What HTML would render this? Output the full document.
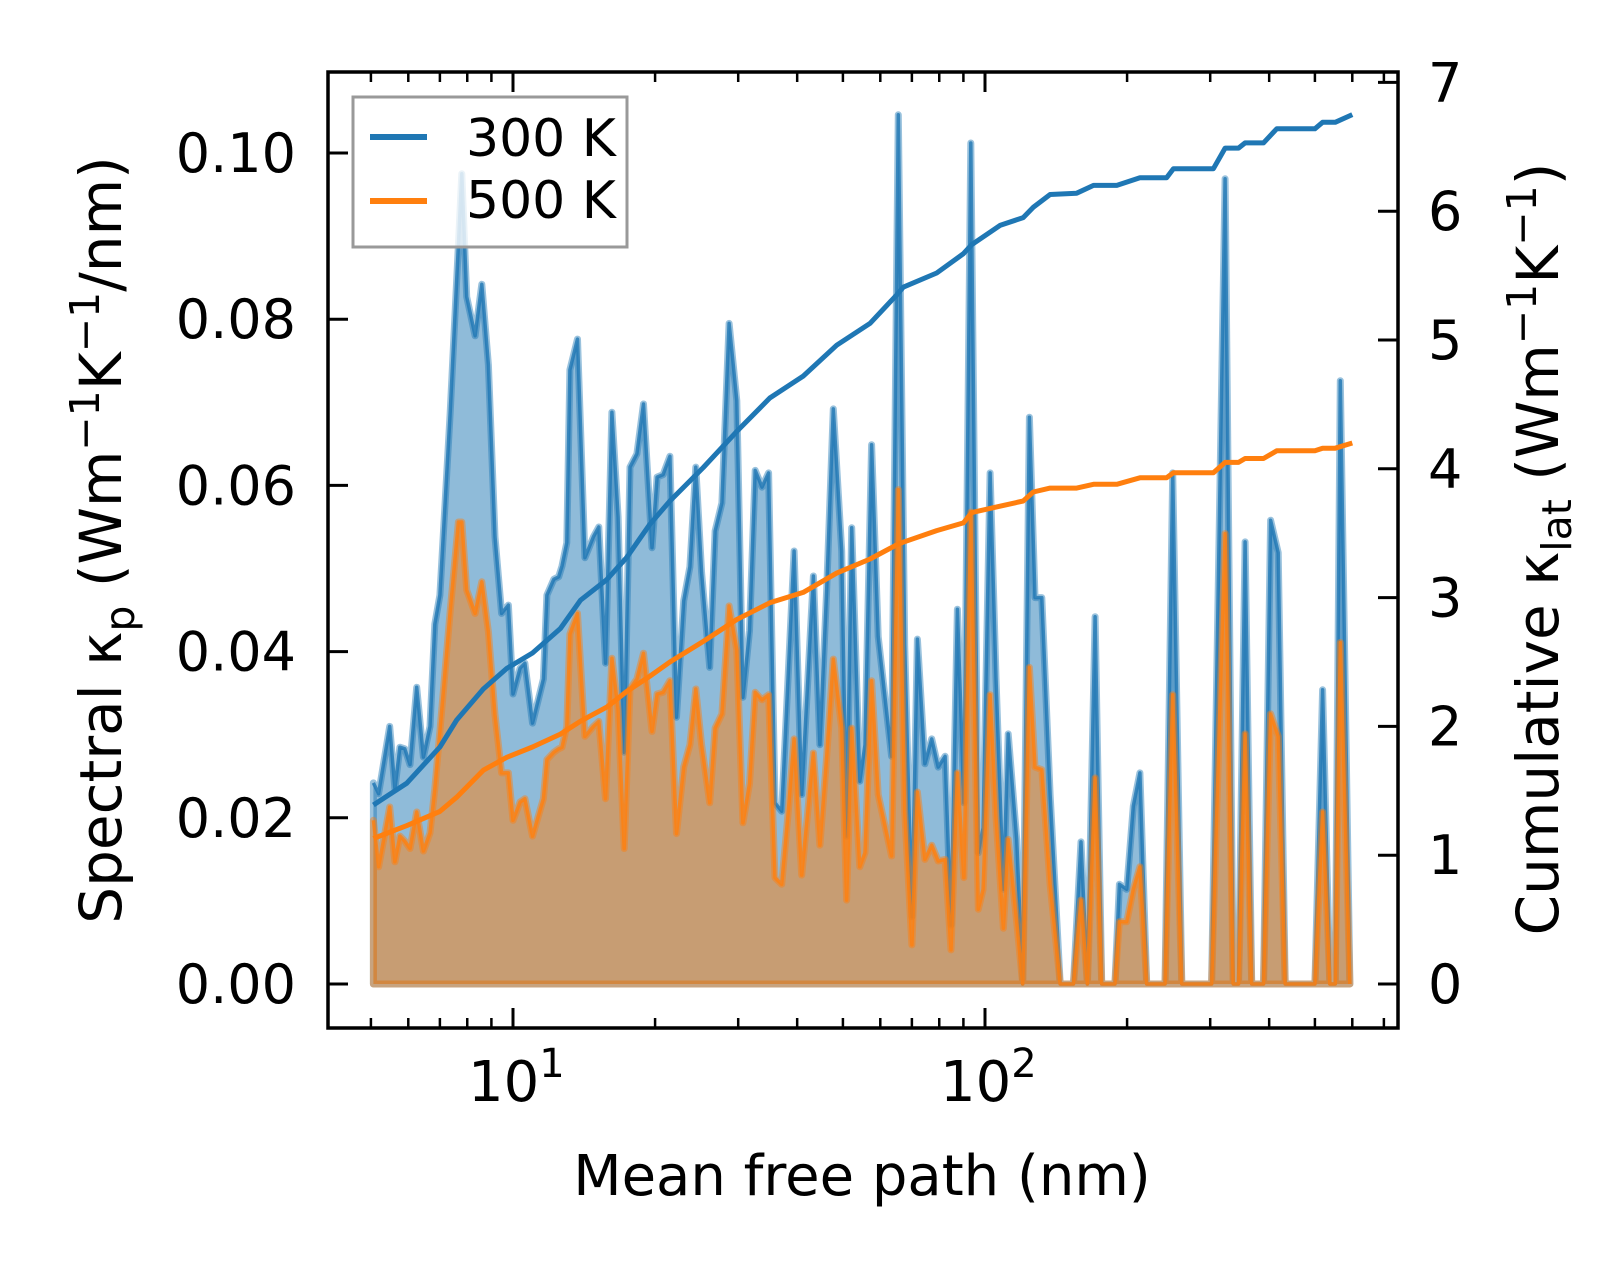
<!DOCTYPE html>
<html><head><meta charset="utf-8"><style>
html,body{margin:0;padding:0;background:#fff;}
svg{display:block;font-family:"DejaVu Sans","Liberation Sans",sans-serif;}
</style></head><body>
<svg id="chart" width="1623" height="1266" viewBox="0 0 1623 1266" xmlns="http://www.w3.org/2000/svg">
<rect width="1623" height="1266" fill="#fff"/>
<g id="marks"></g>
<g id="axes"></g>
<text x="862" y="1195" font-size="56" text-anchor="middle">Mean free path (nm)</text>
<text transform="translate(121,540) rotate(-90)" font-size="58" text-anchor="middle">Spectral κ<tspan font-size="41" dy="13">p</tspan><tspan dy="-13"> (Wm</tspan><tspan font-size="41" dy="-22">−1</tspan><tspan dy="22">K</tspan><tspan font-size="41" dy="-22">−1</tspan><tspan dy="22">/nm)</tspan></text>
<text transform="translate(1558,549) rotate(-90)" font-size="58" text-anchor="middle">Cumulative κ<tspan font-size="41" dy="13">lat</tspan><tspan dy="-13"> (Wm</tspan><tspan font-size="41" dy="-22">−1</tspan><tspan dy="22">K</tspan><tspan font-size="41" dy="-22">−1</tspan><tspan dy="22">)</tspan></text>
<g>
<rect x="353" y="97" width="274" height="150" fill="#fff" fill-opacity="0.8" stroke="#999" stroke-width="3"/>
<line x1="370" y1="137" x2="427" y2="137" stroke="#1f77b4" stroke-width="6"/>
<text x="466" y="156" font-size="52">300 K</text>
<line x1="370" y1="201" x2="427" y2="201" stroke="#ff7f0e" stroke-width="6"/>
<text x="466" y="218" font-size="52">500 K</text>
</g>
</svg>
<script>
const mfp = [5.06,5.19,5.48,5.62,5.76,5.90,6.05,6.25,6.46,6.67,6.83,7.00,7.36,7.66,7.79,7.98,8.31,8.59,8.87,9.16,9.46,9.78,10.0,10.35,10.6,11.0,11.6,11.8,12.2,12.5,12.7,13.0,13.2,13.7,14.2,14.8,15.2,15.7,16.2,16.7,17.2,17.7,18.3,18.9,19.7,20.2,20.8,21.5,
22.2,23.0,23.7,24.4,25.1,26.1,26.8,27.7,28.7,29.8,30.7,31.7,32.6,33.7,34.8,35.9,37.1,38.3,39.4,40.9,43.3,44.7,46.2,47.7,49.7,50.9,52.2,54.3,55.7,57.5,59.4,63.4,65.5,67.6,70.0,71.9,74.6,77.1,79.6,82.3,84.7,87.4,90.2,93.3,96.8,99.1,102.5,105.5,109.4,112.0,
116.7,120.2,124.2,127.6,131.9,137.4,144.3,153.9,159.7,164.8,171.1,176.7,188.5,192.6,199.6,206.2,212.9,220.1,240.6,249.8,261.2,302,322.6,335.7,344.4,355.6,367.3,389,402.7,418,432.5,500,519,538,552,566,593];
const spec300 = [0.0242,0.0229,0.0310,0.0235,0.0285,0.0283,0.0264,0.0357,0.0273,0.0310,0.0433,0.0468,0.0688,0.0889,0.0975,0.0827,0.0780,0.0842,0.0745,0.0538,0.0446,0.0456,0.0349,0.0380,0.0386,0.0314,0.0367,0.0468,0.0487,0.0490,0.0503,0.0531,0.0739,0.0776,0.0513,0.0538,0.0550,0.0386,0.0688,0.0562,0.0279,0.0622,0.0638,0.0698,0.0525,0.0610,0.0613,0.0635,
0.0321,0.0461,0.0502,0.0622,0.0495,0.0381,0.0545,0.0579,0.0795,0.0702,0.0345,0.0425,0.0618,0.0598,0.0615,0.0218,0.0208,0.0374,0.0521,0.0228,0.0491,0.0288,0.0475,0.0692,0.0521,0.0178,0.0549,0.0244,0.0288,0.0649,0.0418,0.0274,0.1046,0.0408,0.0081,0.0415,0.0265,0.0295,0.0261,0.0274,0.0071,0.0451,0.0218,0.1012,0.0158,0.0188,0.0615,0.0368,0.0114,0.0301,
0.0174,0,0.0682,0.0465,0.0465,0.0228,0,0,0.0171,0,0.0442,0,0,0.0120,0.0114,0.0214,0.0254,0,0,0.0615,0,0,0.0969,0,0,0.0532,0,0,0.0558,0.0519,0,0,0.0354,0,0,0.0726,0];
const spec500 = [0.0197,0.0141,0.0213,0.0147,0.0178,0.0172,0.0163,0.0207,0.0160,0.0182,0.0235,0.0304,0.0449,0.0556,0.0556,0.0474,0.0446,0.0484,0.0424,0.0324,0.0254,0.0254,0.0197,0.0219,0.0223,0.0178,0.0223,0.0270,0.0279,0.0283,0.0285,0.0310,0.0421,0.0446,0.0298,0.0310,0.0316,0.0223,0.0392,0.0330,0.0163,0.0355,0.0367,0.0398,0.0304,0.0349,0.0351,0.0365,
0.0181,0.0261,0.0288,0.0355,0.0288,0.0218,0.0308,0.0325,0.0455,0.0402,0.0194,0.0241,0.0351,0.0342,0.0348,0.0128,0.0120,0.0208,0.0295,0.0131,0.0278,0.0167,0.0274,0.0391,0.0308,0.0101,0.0308,0.0141,0.0158,0.0365,0.0228,0.0154,0.0595,0.0208,0.0047,0.0231,0.0150,0.0167,0.0148,0.0150,0.0041,0.0254,0.0128,0.0568,0.0090,0.0114,0.0348,0.0201,0.0067,0.0174,
0.0075,0,0.0381,0.0261,0.0258,0.0120,0,0,0.0101,0,0.0248,0,0,0.0075,0.0075,0.0114,0.0141,0,0,0.0348,0,0,0.0542,0,0,0.0301,0,0,0.0325,0.0298,0,0,0.0207,0,0,0.0411,0];
const cumMfp = [5.06,5.96,7.00,7.60,8.65,9.70,11.0,12.6,13.9,15.8,17.4,19.5,21.5,25.3,29.8,35.0,41.2,48.5,57.1,65.0,67.1,79.0,90.0,93.7,107.6,120.5,126.6,137.4,156.4,169.8,190.2,212.9,242.5,250.7,304.7,322.6,344.4,355.6,389,415,500,519,552,600];
const cum300 = [1.39,1.56,1.84,2.05,2.29,2.45,2.57,2.76,2.98,3.14,3.31,3.57,3.75,4.01,4.29,4.55,4.72,4.96,5.13,5.35,5.41,5.52,5.67,5.74,5.89,5.95,6.03,6.13,6.14,6.20,6.20,6.26,6.26,6.33,6.33,6.49,6.49,6.53,6.53,6.64,6.64,6.69,6.69,6.75];
const cum500 = [1.13,1.23,1.34,1.45,1.66,1.76,1.84,1.94,2.04,2.15,2.27,2.39,2.50,2.66,2.83,2.96,3.04,3.19,3.30,3.41,3.43,3.52,3.58,3.66,3.71,3.75,3.82,3.85,3.85,3.88,3.88,3.93,3.93,3.97,3.97,4.05,4.05,4.08,4.08,4.14,4.14,4.16,4.16,4.20];
const leftTicks = [0,0.02,0.04,0.06,0.08,0.10];
const leftTickLabels = ["0.00","0.02","0.04","0.06","0.08","0.10"];
const rightTicks = [0,1,2,3,4,5,6,7];
const xMajor = [10,100];
const xMinor = [5,6,7,8,9,20,30,40,50,60,70,80,90,200,300,400,500,600,700];

const L=328,R=1398,T=72,B=1028;
function xs(v){return 513+472*(Math.log10(v)-1);}
function yl(v){return 984-8310*v;}
function yr(v){return 984-128.8*v;}
const NS="http://www.w3.org/2000/svg";
const marks=document.getElementById('marks');
const axes=document.getElementById('axes');
function mk(tag,attrs,parent){const e=document.createElementNS(NS,tag);for(const k in attrs)e.setAttribute(k,attrs[k]);parent.appendChild(e);return e;}

function spectral(vals,color,name){
  let line=vals.map((v,i)=>(i?'L':'M')+xs(mfp[i]).toFixed(1)+','+yl(v).toFixed(1)).join(' ');
  let area=line+' L'+xs(mfp[mfp.length-1]).toFixed(1)+','+yl(0)+' L'+xs(mfp[0]).toFixed(1)+','+yl(0)+' Z';
  const f=mk('path',{d:area,fill:color,'fill-opacity':'0.5',stroke:color,'stroke-opacity':'0.45','stroke-width':'7','stroke-linejoin':'round'},marks);
  
  
  const l=mk('path',{d:line,fill:'none',stroke:color,'stroke-opacity':'0.8','stroke-width':'3.5','stroke-linejoin':'round'},marks);
  
  
}
spectral(spec300,'#1f77b4','spectral-300k');
spectral(spec500,'#ff7f0e','spectral-500k');
function cum(vals,color,name){
  const d=vals.map((v,i)=>(i?'L':'M')+xs(cumMfp[i]).toFixed(1)+','+yr(v).toFixed(1)).join(' ');
  const p=mk('path',{d:d,fill:'none',stroke:color,'stroke-width':'5','stroke-linejoin':'round'},marks);
  
  
}
cum(cum300,'#1f77b4','cumulative-300k');
cum(cum500,'#ff7f0e','cumulative-500k');

const fr=mk('rect',{x:L,y:T,width:R-L,height:B-T,fill:'none',stroke:'#000','stroke-width':'3.5'},axes);


leftTicks.forEach((v,i)=>{
  const y=yl(v);
  const t=mk('line',{x1:L,y1:y,x2:L+20,y2:y,stroke:'#000','stroke-width':'3'},axes);
  
  
  const tx=mk('text',{x:296,y:y+19,'font-size':'54','text-anchor':'end'},axes);
  tx.textContent=leftTickLabels[i];
  
  
});
rightTicks.forEach(v=>{
  const y=yr(v);
  const t=mk('line',{x1:R-20,y1:y,x2:R,y2:y,stroke:'#000','stroke-width':'3'},axes);
  
  
  const tx=mk('text',{x:1428,y:y+19,'font-size':'54'},axes);
  tx.textContent=String(v);
  
  
});
xMajor.forEach((v,i)=>{
  const x=xs(v);
  [[B,B-20],[T,T+20]].forEach(p=>{
    const t=mk('line',{x1:x,y1:p[0],x2:x,y2:p[1],stroke:'#000','stroke-width':'3'},axes);
    
    
  });
  const tx=mk('text',{x:x-45,y:1101,'font-size':'56'},axes);
  
  
  tx.textContent='10';
  const sp=mk('tspan',{'font-size':'40',dy:'-24'},tx);
  sp.textContent=String(Math.round(Math.log10(v)));
});
xMinor.forEach(v=>{
  const x=xs(v);
  if(x<L||x>R) return;
  [[B,B-10],[T,T+10]].forEach(p=>{
    const t=mk('line',{x1:x,y1:p[0],x2:x,y2:p[1],stroke:'#000','stroke-width':'2.5'},axes);
    
    
  });
});
</script>
</body></html>
